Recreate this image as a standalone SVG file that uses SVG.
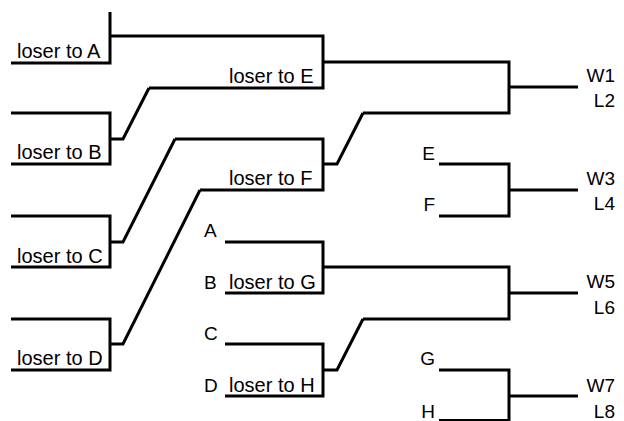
<svg xmlns="http://www.w3.org/2000/svg" width="624" height="421" viewBox="0 0 624 421">
  <style>
    .ln { fill: none; stroke: #000; stroke-width: 3; stroke-linejoin: miter; stroke-linecap: butt; }
    .t { font-family: "Liberation Sans", Arial, sans-serif; fill: #000; }
    .lose { font-size: 20px; }
    .tag { font-size: 19px; }
    .end { text-anchor: end; }
  </style>
  <rect width="624" height="421" fill="#fff"/>

  <!-- Losers' bracket entries -->
  <g id="loser-a">
    <polyline class="ln" points="11,63 110,63 110,12"/>
    <text class="t lose" x="17" y="58">loser to A</text>
  </g>
  <g id="loser-b">
    <polyline class="ln" points="11,113 110,113 110,164 11,164"/>
    <text class="t lose" x="17" y="159">loser to B</text>
  </g>
  <g id="loser-c">
    <polyline class="ln" points="11,216 110,216 110,267 11,267"/>
    <text class="t lose" x="17" y="263">loser to C</text>
  </g>
  <g id="loser-d">
    <polyline class="ln" points="11,319 110,319 110,370 11,370"/>
    <text class="t lose" x="17" y="365">loser to D</text>
  </g>

  <!-- Second-column matches -->
  <g id="match-ae">
    <polyline class="ln" points="110,36 323,36 323,88 149,88"/>
    <text class="t lose" x="229" y="83">loser to E</text>
  </g>
  <g id="match-f">
    <polyline class="ln" points="175,139 323,139 323,190 200,190"/>
    <text class="t lose" x="229" y="185">loser to F</text>
  </g>
  <g id="match-g">
    <polyline class="ln" points="225,242 323,242 323,293 225,293"/>
    <text class="t tag" x="204" y="237">A</text>
    <text class="t tag" x="204" y="289">B</text>
    <text class="t lose" x="229" y="289">loser to G</text>
  </g>
  <g id="match-h">
    <polyline class="ln" points="225,344 323,344 323,396 225,396"/>
    <text class="t tag" x="204" y="340">C</text>
    <text class="t tag" x="204" y="392">D</text>
    <text class="t lose" x="229" y="392">loser to H</text>
  </g>

  <!-- Finals column -->
  <g id="final-1">
    <polyline class="ln" points="323,62 509,62 509,113 363,113"/>
    <text class="t tag end" x="615" y="82">W1</text>
    <text class="t tag end" x="615" y="107">L2</text>
  </g>
  <g id="final-3">
    <polyline class="ln" points="439,164 509,164 509,216 439,216"/>
    <text class="t tag end" x="435" y="160">E</text>
    <text class="t tag end" x="435" y="211">F</text>
    <text class="t tag end" x="615" y="185">W3</text>
    <text class="t tag end" x="615" y="210">L4</text>
  </g>
  <g id="final-5">
    <polyline class="ln" points="323,267 509,267 509,319 363,319"/>
    <text class="t tag end" x="615" y="288">W5</text>
    <text class="t tag end" x="615" y="314">L6</text>
  </g>
  <g id="final-7">
    <polyline class="ln" points="439,370 509,370 509,420.5 439,420.5"/>
    <text class="t tag end" x="435" y="365">G</text>
    <text class="t tag end" x="435" y="418">H</text>
    <text class="t tag end" x="615" y="392">W7</text>
    <text class="t tag end" x="615" y="418">L8</text>
  </g>

  <!-- Connectors: advancing lines and slanted jumps -->
  <g id="connectors">
    <polyline class="ln" points="110,139 123,139 149,88"/>
    <polyline class="ln" points="110,242 123,242 175,139"/>
    <polyline class="ln" points="110,344 123,344 200,190"/>
    <polyline class="ln" points="323,164 337,164 363,113"/>
    <polyline class="ln" points="323,370 337,370 363,319"/>
    <line class="ln" x1="509" y1="87" x2="578" y2="87"/>
    <line class="ln" x1="509" y1="190" x2="578" y2="190"/>
    <line class="ln" x1="509" y1="293" x2="578" y2="293"/>
    <line class="ln" x1="509" y1="396" x2="578" y2="396"/>
  </g>
</svg>
